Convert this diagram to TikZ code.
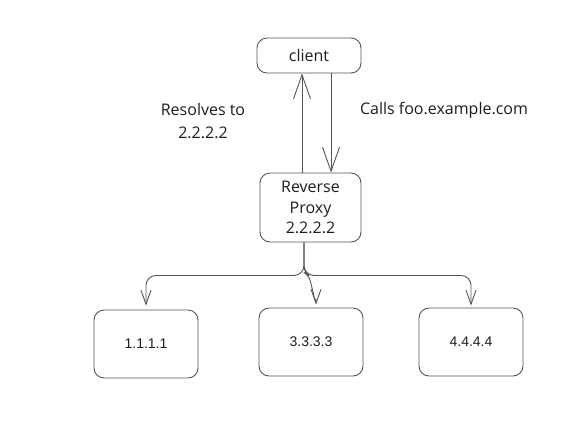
\documentclass[tikz,border=0pt]{standalone}
\usepackage{fontspec}
\setmainfont{Open Sans}
\newfontfamily\numfont{Liberation Sans}
\usetikzlibrary{arrows.meta,calc}
\definecolor{linec}{HTML}{555555}
\definecolor{textc}{HTML}{1E1E1E}
\tikzset{
  box/.style={draw=linec, line width=0.9pt, rounded corners=10pt, text=textc, align=center, inner sep=0pt},
  lbl/.style={text=textc, font=\fontsize{16}{23}\selectfont, align=center, inner sep=0pt},
  conn/.style={draw=linec, line width=0.9pt},
  bigtip/.style={-{Straight Barb[length=24pt,width=17pt,line width=0.9pt]}},
  smalltip/.style={-{Straight Barb[length=14pt,width=10pt,line width=0.9pt]}},
}
\begin{document}
\begin{tikzpicture}[x=1pt,y=-1pt]
\useasboundingbox[fill=white] (0,0) rectangle (573,424);
\node[box, minimum width=104pt, minimum height=35pt, font=\fontsize{16}{20}\selectfont] (client) at (309,55.5) {client};
\node[box, minimum width=101pt, minimum height=69pt, font=\fontsize{16}{20.5}\selectfont] (proxy) at (310.5,207.5) {Reverse\\Proxy\\2.2.2.2};
\node[box, minimum width=104pt, minimum height=68pt, font=\numfont\fontsize{14}{16}\selectfont] (b1) at (146,344) {1.1.1.1};
\node[box, minimum width=104pt, minimum height=68pt, font=\numfont\fontsize{14}{16}\selectfont] (b2) at (311,342) {3.3.3.3};
\node[box, minimum width=104pt, minimum height=68pt, font=\numfont\fontsize{14}{16}\selectfont] (b3) at (471,342) {4.4.4.4};
\node[lbl] (res) at (203,121) {Resolves to\\2.2.2.2};
\node[lbl] (calls) at (444,110) {Calls foo.example.com};
% up / down arrows
\draw[conn, bigtip] ($(proxy.north)+(-8.5,0)$) -- ($(client.south)+(-7,0)$);
\draw[conn, bigtip] ($(client.south)+(22,0)$) -- ($(proxy.north)+(20.5,0)$);
% tree
\coordinate (j) at ($(proxy.south)+(-6.5,0)$);
\draw[conn, smalltip, rounded corners=10pt] (j) -- ++(0,33) -| ($(b1.north)+(0,-4)$);
\draw[conn, smalltip, rounded corners=10pt] (j) -- ++(0,33) -| ($(b3.north)+(0,-2)$);
\draw[conn, smalltip, rounded corners=6pt] (j) -- ++(0,30) -- ++(5,3) -- ($(b2.north)+(5,-3)$ |- 0,278) -- ($(b2.north)+(5,-3)$);
\end{tikzpicture}
\end{document}
